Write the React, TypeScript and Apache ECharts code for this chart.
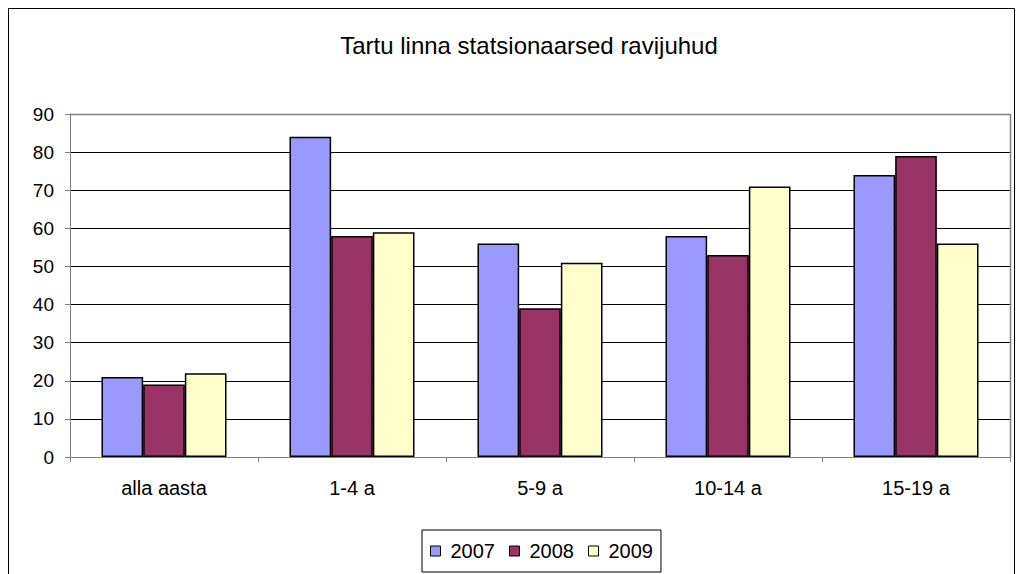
import React, { useEffect, useRef } from "react";
import * as echarts from "echarts";

const categories = ["alla aasta", "1-4 a", "5-9 a", "10-14 a", "15-19 a"];
const seriesNames = ["2007", "2008", "2009"];
const values2007 = [21, 84, 56, 58, 74];
const values2008 = [19, 58, 39, 53, 79];
const values2009 = [22, 59, 51, 71, 56];
const colors = ["#9999FF", "#993366", "#FFFFCC"];

const FONT = "'Liberation Sans', Arial, sans-serif";

export default function App() {
  const ref = useRef<HTMLDivElement>(null);
  useEffect(() => {
    if (!ref.current) return;
    const chart = echarts.init(ref.current, null, { renderer: "svg" });
    const data = [values2007, values2008, values2009];
    chart.setOption({
      animation: false,
      backgroundColor: "#ffffff",
      title: {
        text: "Tartu linna statsionaarsed ravijuhud",
        left: 524,
        textAlign: "center",
        top: 28,
        textStyle: { fontFamily: FONT, fontSize: 24, fontWeight: "normal", color: "#000" },
      },
      legend: {
        data: seriesNames,
        left: 422,
        top: 530,
        width: 234,
        height: 43,
        padding: [11, 8, 11, 8],
        borderColor: "#000",
        borderWidth: 1,
        itemWidth: 10,
        itemHeight: 10,
        itemGap: 14,
        icon: "rect",
        itemStyle: { borderColor: "#000", borderWidth: 1 },
        textStyle: { fontFamily: FONT, fontSize: 20, color: "#000", padding: [0, 0, 0, 5] },
      },
      grid: { left: 70, right: 9, top: 114, bottom: 117, containLabel: false },
      xAxis: {
        type: "category",
        data: categories,
        axisLine: { show: true, lineStyle: { color: "#808080", width: 1 } },
        axisTick: { show: true, length: 5, lineStyle: { color: "#808080" } },
        axisLabel: { fontFamily: FONT, fontSize: 20, color: "#000", margin: 21 },
        splitLine: { show: false },
      },
      yAxis: {
        type: "value",
        min: 0,
        max: 90,
        interval: 10,
        axisLine: { show: true, lineStyle: { color: "#808080", width: 1 } },
        axisTick: { show: true, length: 5, lineStyle: { color: "#808080" } },
        axisLabel: { fontFamily: FONT, fontSize: 19, color: "#000", margin: 16 },
        splitLine: { show: true, lineStyle: { color: "#000", width: 1 } },
      },
      graphic: [
        {
          type: "rect",
          shape: { x: 8.5, y: 8.5, width: 1006, height: 600 },
          style: { fill: "none", stroke: "#000", lineWidth: 1 },
          silent: true,
          z: 100,
        },
        {
          type: "line",
          shape: { x1: 70, y1: 114.5, x2: 1010.5, y2: 114.5 },
          style: { stroke: "#808080", lineWidth: 1.5 },
          z: 100,
        },
        {
          type: "line",
          shape: { x1: 1010.5, y1: 114, x2: 1010.5, y2: 457 },
          style: { stroke: "#808080", lineWidth: 1.5 },
          z: 100,
        },
      ],
      series: seriesNames.map((name, i) => ({
        name,
        type: "bar",
        data: data[i],
        barGap: "0%",
        barCategoryGap: "33.5%",
        itemStyle: { color: colors[i], borderColor: "#000", borderWidth: 1.5 },
      })),
    });
    return () => chart.dispose();
  }, []);
  return (
    <div
      ref={ref}
      style={{ position: "fixed", left: 0, top: 0, width: 1019, height: 574 }}
    />
  );
}
